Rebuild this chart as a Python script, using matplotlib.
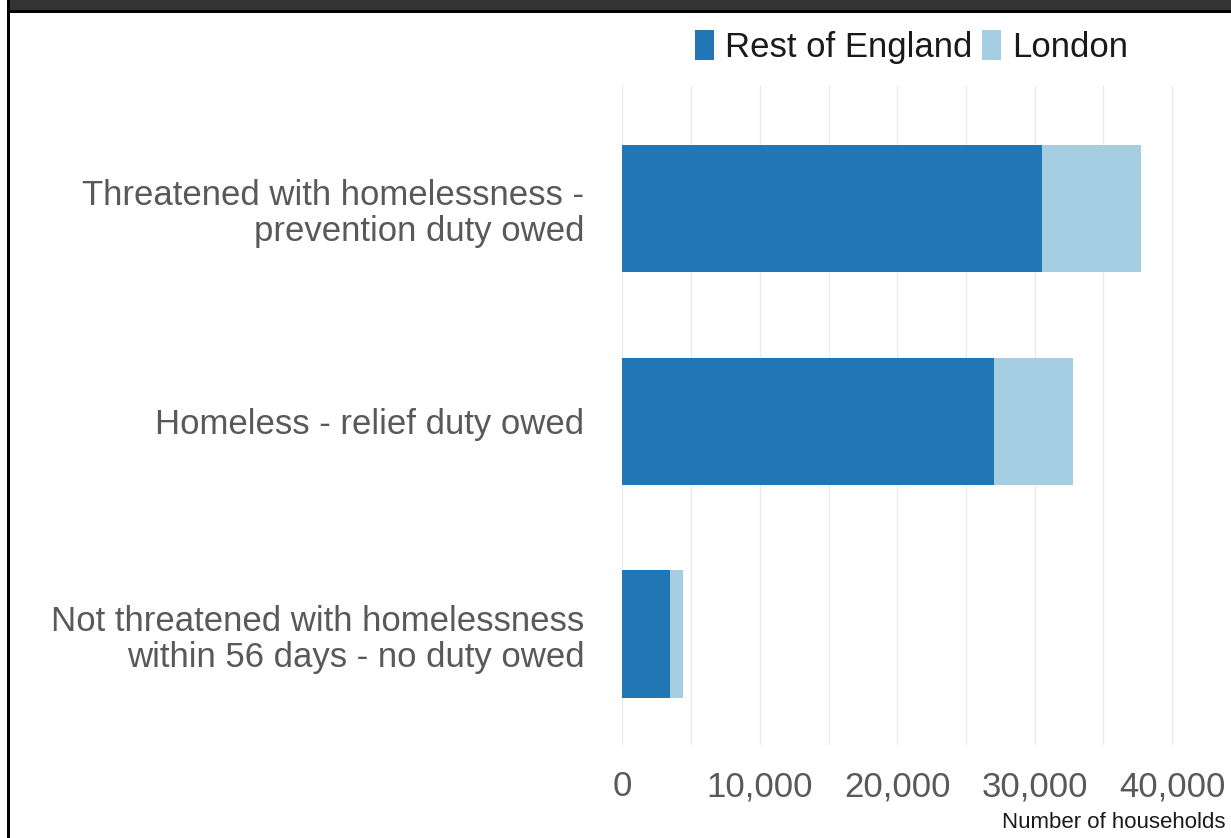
import numpy as np
import matplotlib.pyplot as plt
from matplotlib.patches import Patch, Rectangle

plt.rcParams['font.family'] = ['Liberation Sans', 'DejaVu Sans']

# data
categories = [
    "Threatened with homelessness -\nprevention duty owed",
    "Homeless - relief duty owed",
    "Not threatened with homelessness\nwithin 56 days - no duty owed",
]
rest_of_england = [30550, 27050, 3500]
london = [7200, 5750, 950]
series_names = ["Rest of England", "London"]
series_colors = ["#2077b4", "#a6cee3"]
x_ticks = [0, 10000, 20000, 30000, 40000]

W, H = 1231, 838
fig = plt.figure(figsize=(W / 100, H / 100), dpi=100)
ax = fig.add_axes([622 / W, 1 - 745 / H, 552 / W, 660 / H])

y = np.arange(len(categories))
ax.barh(y, rest_of_england, height=0.6, color=series_colors[0], zorder=2)
ax.barh(y, london, left=rest_of_england, height=0.6, color=series_colors[1], zorder=2)

ax.set_xlim(-20, 40130)
ax.set_ylim(2.52, -0.58)
ax.set_yticks(y)
ax.set_yticklabels(categories, fontsize=25, color="#595959", linespacing=1.13)
ax.set_xticks(x_ticks)
ax.set_xticklabels([f"{v:,}" for v in x_ticks], fontsize=25, color="#595959")
ax.xaxis.set_minor_locator(plt.MultipleLocator(5000))
ax.tick_params(axis="y", length=0, pad=27)
ax.tick_params(axis="x", which="both", length=0, pad=18)
ax.grid(axis="x", which="both", color="#ebebeb", linewidth=1, zorder=0)
for s in ax.spines.values():
    s.set_visible(False)

fig.text(1226 / W, 1 - 828 / H, "Number of households", fontsize=16,
         ha="right", va="baseline", color="#1a1a1a")

handles = [Patch(facecolor=c, edgecolor="none", label=n)
           for n, c in zip(series_names, series_colors)]
fig.legend(handles=handles, loc="upper left", bbox_to_anchor=(695 / W, 1 - 30 / H),
           ncol=2, frameon=False, fontsize=25, handlelength=0.55, handleheight=0.95,
           handletextpad=0.3, columnspacing=0.3, borderpad=0, borderaxespad=0,
           labelcolor="#1a1a1a")

# frame decoration: dark top band and black border lines
fig.patches.append(Rectangle((10 / W, 1 - 10 / H), 1, 10 / H, transform=fig.transFigure,
                             facecolor="#333333", edgecolor="none", zorder=5))
fig.patches.append(Rectangle((7 / W, 1 - 13 / H), 1, 3 / H, transform=fig.transFigure,
                             facecolor="black", edgecolor="none", zorder=5))
fig.patches.append(Rectangle((7 / W, 0), 3 / W, 1, transform=fig.transFigure,
                             facecolor="black", edgecolor="none", zorder=5))

fig.savefig("out.png", dpi=100)
